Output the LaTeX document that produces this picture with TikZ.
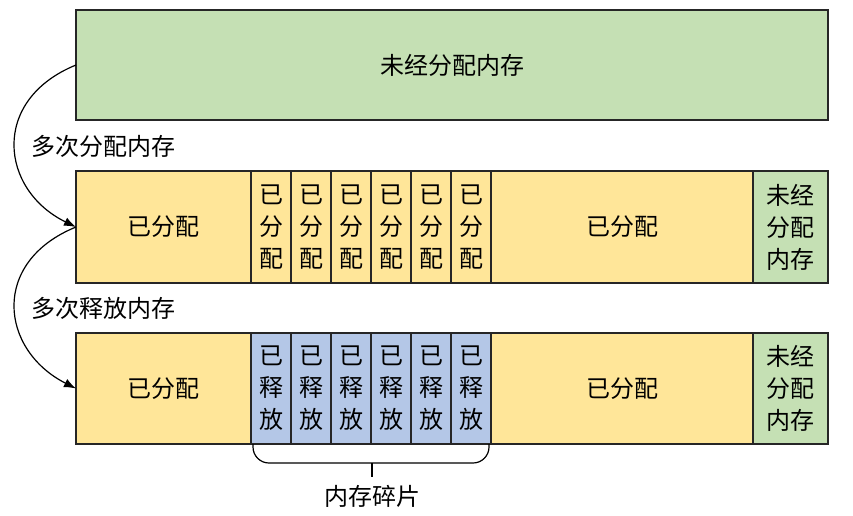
\documentclass[tikz,border=0pt]{standalone}
\usepackage{fontspec}
\setmainfont{Noto Sans CJK SC}
\usetikzlibrary{arrows.meta}

\definecolor{freegreen}{HTML}{C5E0B4}
\definecolor{usedyellow}{HTML}{FFE699}
\definecolor{relblue}{HTML}{B4C7E7}

\tikzset{
  cell/.style={draw=black!85, line width=1.2pt, anchor=north west, inner sep=0pt,
    outer sep=0pt, align=center, font=\fontsize{24}{32}\selectfont},
  flow/.style={line width=1.2pt, -{Latex[length=12pt,width=9pt]}},
  lbl/.style={font=\fontsize{24}{28}\selectfont}
}

\begin{document}
\begin{tikzpicture}[x=1pt,y=-1pt]
\useasboundingbox (0,0) rectangle (853,515);
%
\node [cell, fill=freegreen, minimum width=752pt, minimum height=110pt] (heap) at (76,10) {未经分配内存};
%
\node [cell, fill=usedyellow, minimum width=175pt, minimum height=112pt] (ua) at (76,171) {已分配};
\foreach \i in {1,...,6}
  \node [cell, fill=usedyellow, minimum width=40pt, minimum height=112pt] (ub\i) at (211+40*\i,171) {已\\分\\配};
\node [cell, fill=usedyellow, minimum width=262pt, minimum height=112pt] (uc) at (491,171) {已分配};
\node [cell, fill=freegreen, minimum width=75pt, minimum height=112pt] (ud) at (753,171) {未经\\分配\\内存};
%
\node [cell, fill=usedyellow, minimum width=175pt, minimum height=111pt] (fa) at (76,333) {已分配};
\foreach \i in {1,...,6}
  \node [cell, fill=relblue, minimum width=40pt, minimum height=111pt] (fb\i) at (211+40*\i,333) {已\\释\\放};
\node [cell, fill=usedyellow, minimum width=262pt, minimum height=111pt] (fc) at (491,333) {已分配};
\node [cell, fill=freegreen, minimum width=75pt, minimum height=111pt] (fd) at (753,333) {未经\\分配\\内存};
%
\draw [flow] (heap.west) .. controls (-10,100) and (0,190) .. (ua.west);
\draw [flow] (ua.west) .. controls (-10,262) and (0,350) .. (fa.west);
\node [lbl] (lblalloc) at (103,146) {多次分配内存};
\node [lbl] (lblfree) at (103,308) {多次释放内存};
%
\draw [line width=1.2pt, rounded corners=16pt] ([xshift=2pt]fb1.south west) |- (372,463) -| ([xshift=-2pt]fb6.south east);
\coordinate (mid) at (372,463);
\node [lbl] (frag) at (372,496) {内存碎片};
\draw [line width=1.2pt] (mid) -- ++(0,14);
%%%%%%%%%%%%%%%%%%%%%%%%%%%%%%%
\end{tikzpicture}
\end{document}
